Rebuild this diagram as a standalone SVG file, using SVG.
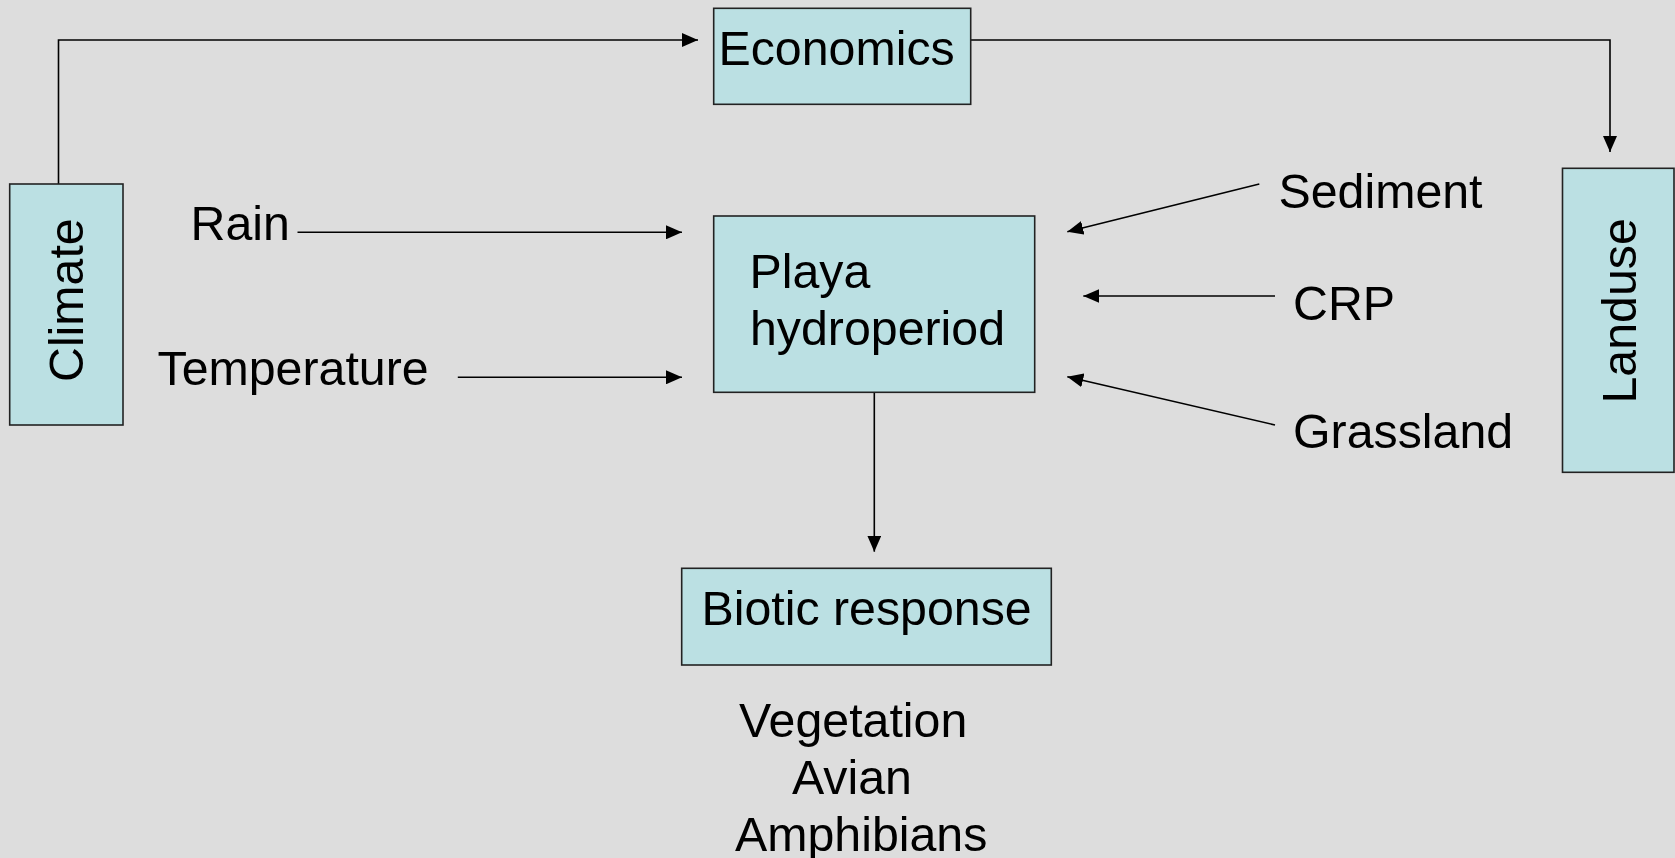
<svg xmlns="http://www.w3.org/2000/svg" width="1675" height="858" viewBox="0 0 1675 858">
<style>
.box{fill:#BBE0E3;stroke:#222;stroke-width:1.6}
.t{font-family:"Liberation Sans",Arial,sans-serif;font-size:48.3px;fill:#000}
.c{fill:none;stroke:#000;stroke-width:1.6;marker-end:url(#ah)}
</style>
<defs>
<marker id="ah" markerUnits="userSpaceOnUse" markerWidth="16" markerHeight="14" refX="16" refY="7" orient="auto" viewBox="0 0 16 14">
<path d="M0,0 L16,7 L0,14 z" fill="#000"/>
</marker>
</defs>
<rect width="1675" height="858" fill="#DDDDDD"/>
<g id="connectors">
<polyline class="c" points="58.5,184 58.5,40 698,40"/>
<polyline class="c" points="971,40 1610,40 1610,152"/>
<line class="c" x1="297.5" y1="232.3" x2="682" y2="232.3"/>
<line class="c" x1="457.8" y1="377.3" x2="682" y2="377.3"/>
<line class="c" x1="1259.3" y1="184" x2="1067.3" y2="231.7"/>
<line class="c" x1="1275" y1="296" x2="1083.3" y2="296"/>
<line class="c" x1="1275" y1="425" x2="1067.3" y2="376.7"/>
<line class="c" x1="874.3" y1="392.3" x2="874.3" y2="551.7"/>
</g>
<g id="climate">
<rect class="box" x="9.7" y="184" width="113.3" height="241"/>
<text class="t" transform="translate(83.3,382) rotate(-90)">Climate</text>
</g>
<g id="economics">
<rect class="box" x="713.7" y="8.3" width="257" height="96"/>
<text class="t" x="718.5" y="65">Economics</text>
</g>
<g id="landuse">
<rect class="box" x="1562.5" y="168.3" width="111.5" height="304"/>
<text class="t" transform="translate(1636,403.5) rotate(-90)">Landuse</text>
</g>
<g id="playa">
<rect class="box" x="713.7" y="216" width="321" height="176.3"/>
<text class="t" x="749.5" y="288.3">Playa</text>
<text class="t" x="750" y="345">hydroperiod</text>
</g>
<g id="biotic">
<rect class="box" x="681.7" y="568.3" width="369.6" height="96.7"/>
<text class="t" x="701.5" y="625">Biotic response</text>
</g>
<g id="labels">
<text class="t" x="190.5" y="240">Rain</text>
<text class="t" x="157.5" y="385">Temperature</text>
<text class="t" x="1278.5" y="208.3">Sediment</text>
<text class="t" x="1293" y="320">CRP</text>
<text class="t" x="1293" y="448.3">Grassland</text>
<text class="t" x="739" y="737">Vegetation</text>
<text class="t" x="792" y="794">Avian</text>
<text class="t" x="735" y="851">Amphibians</text>
</g>
</svg>
